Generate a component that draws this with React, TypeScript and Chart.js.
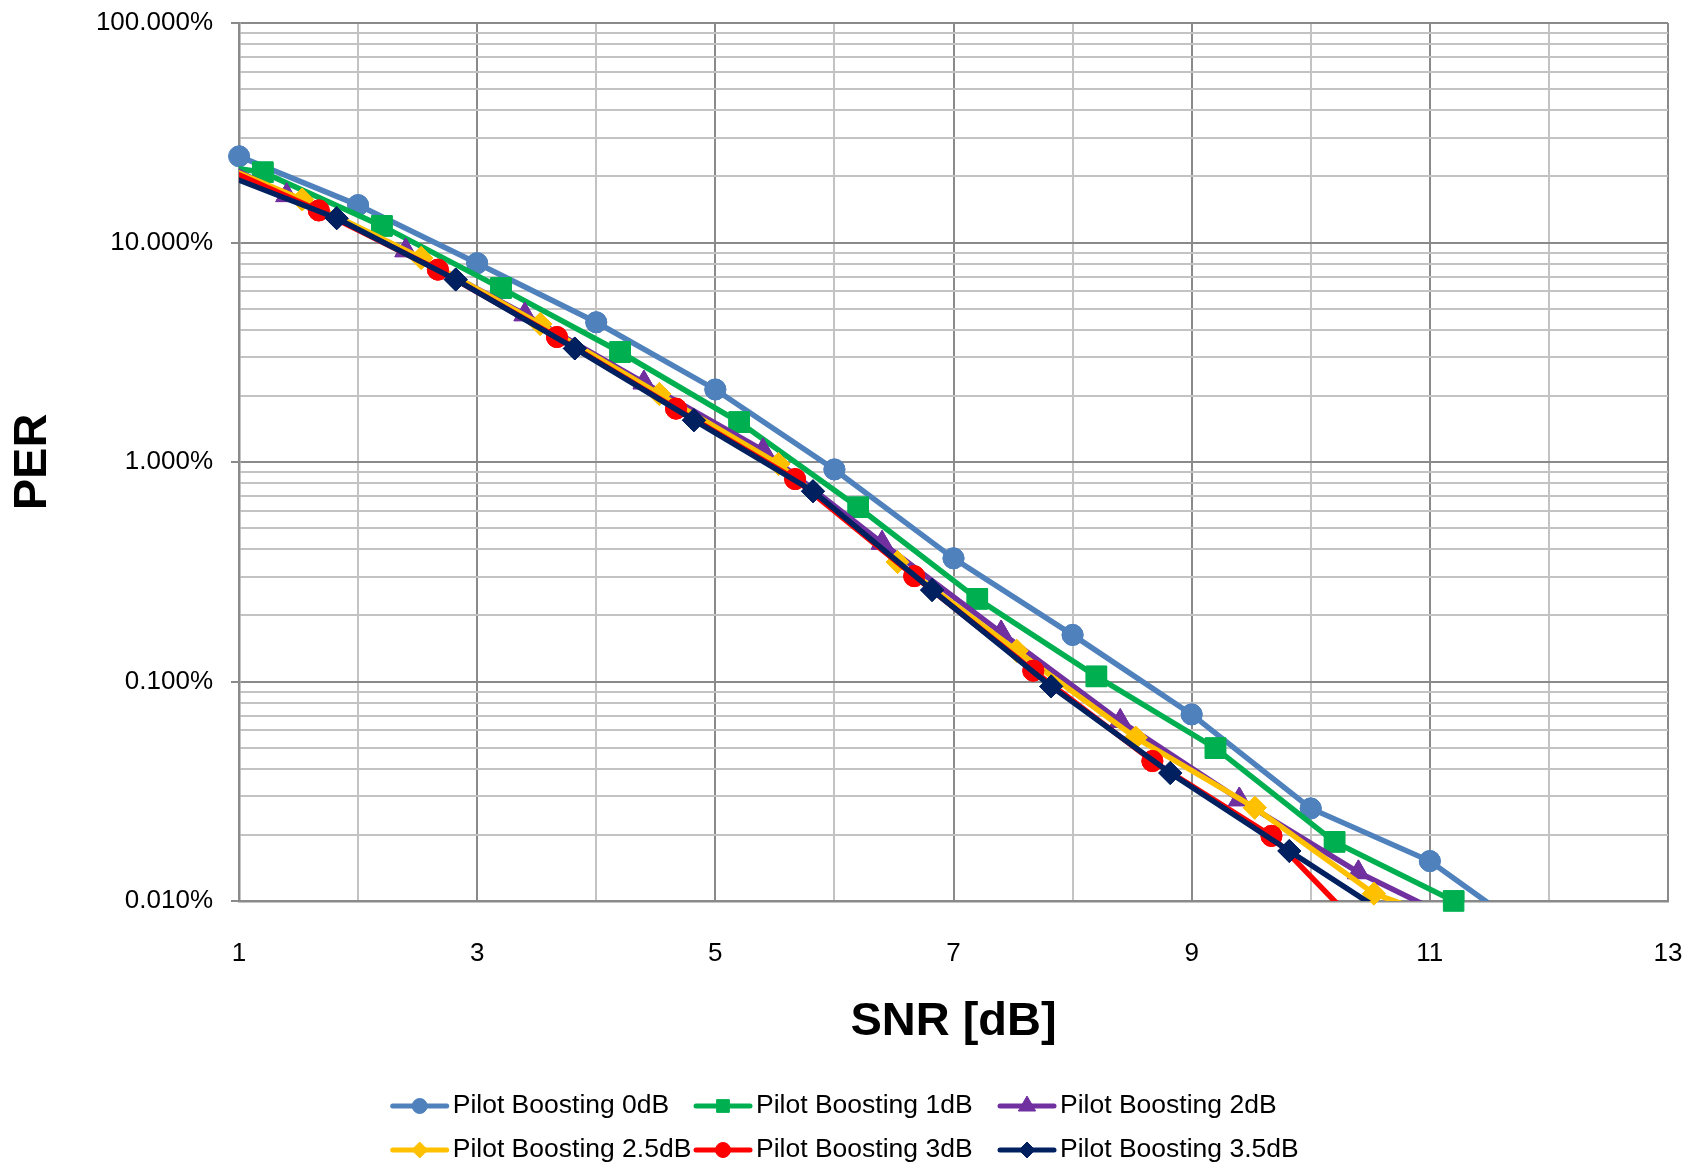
import React, { useEffect, useRef } from 'react';
import { Chart, registerables } from 'chart.js';
import { drawPoint } from 'chart.js/helpers';

Chart.register(...registerables);

// ---------- data ----------
const seriesNames = [
  'Pilot Boosting 0dB',
  'Pilot Boosting 1dB',
  'Pilot Boosting 2dB',
  'Pilot Boosting 2.5dB',
  'Pilot Boosting 3dB',
  'Pilot Boosting 3.5dB',
];

// SNR [dB] (x) and PER [%] (y) per series
const snr0 = [1, 2, 3, 4, 5, 6, 7, 8, 9, 10, 11, 12];
const per0 = [24.7, 14.8, 8.05, 4.33, 2.14, 0.925, 0.364, 0.163, 0.0708, 0.0264, 0.0152, 0.0062];

const snr1 = [0.2, 1.2, 2.2, 3.2, 4.2, 5.2, 6.2, 7.2, 8.2, 9.2, 10.2, 11.2];
const per1 = [25.2, 20.9, 11.9, 6.2, 3.17, 1.52, 0.622, 0.238, 0.1055, 0.0497, 0.0186, 0.01];

const snr2 = [0.4, 1.4, 2.4, 3.4, 4.4, 5.4, 6.4, 7.4, 8.4, 9.4, 10.4, 11.4];
const per2 = [30.5, 16.4, 9.2, 4.7, 2.3, 1.13, 0.428, 0.167, 0.066, 0.029, 0.0135, 0.0073];

const snr25 = [0.53, 1.53, 2.53, 3.53, 4.53, 5.53, 6.53, 7.53, 8.53, 9.53, 10.53, 11.53];
const per25 = [26.5, 15.7, 8.5, 4.25, 2.04, 0.98, 0.35, 0.138, 0.0555, 0.0266, 0.0108, 0.0069];

const snr3 = [0.67, 1.67, 2.67, 3.67, 4.67, 5.67, 6.67, 7.67, 8.67, 9.67, 10.67];
const per3 = [24.5, 14.0, 7.52, 3.71, 1.75, 0.836, 0.302, 0.112, 0.0434, 0.0198, 0.00545];

const snr35 = [0.82, 1.82, 2.82, 3.82, 4.82, 5.82, 6.82, 7.82, 8.82, 9.82, 10.82];
const per35 = [21.0, 12.9, 6.78, 3.29, 1.55, 0.736, 0.261, 0.095, 0.0383, 0.0169, 0.0075];

const seriesX = [snr0, snr1, snr2, snr25, snr3, snr35];
const seriesY = [per0, per1, per2, per25, per3, per35];

// axis ticks
const xTickLabels = [1, 3, 5, 7, 9, 11, 13];
const yDecades = [0.01, 0.1, 1, 10, 100];
const yMinorSteps = [2, 3, 4, 5, 6, 7, 8, 9];

// ---------- styles ----------
const seriesColors = ['#4F81BD', '#00B050', '#7030A0', '#FFC000', '#FF0000', '#002060'];
const seriesMarkers = ['circle', 'rect', 'triangle', 'rectRot', 'circle', 'rectRot'];
const markerRadii = [10.5, 14.5, 12.5, 11.5, 10.5, 11.5];
const legendMarkerRadii = [7.5, 9, 10, 8, 7.5, 8];

const FONT = '"Liberation Sans", Arial, sans-serif';
const GRID_MAJOR = '#8a8a8a';
const GRID_MINOR = '#c3c3c3';

const legendColX = [392.7, 696, 1000];
const legendRowY = [1106, 1150];

const yTickObjs: { value: number; major: boolean }[] = [];
yDecades.forEach((d, i) => {
  yTickObjs.push({ value: d, major: true });
  if (i < yDecades.length - 1) {
    yMinorSteps.forEach((m) => yTickObjs.push({ value: +(d * m).toPrecision(6), major: false }));
  }
});

const pointsOverEdge = {
  id: 'pointsOverEdge',
  afterDatasetDraw(chart: any, args: any) {
    const { left, right, top, bottom } = chart.chartArea;
    const ctx = chart.ctx;
    args.meta.data.forEach((pt: any) => {
      if (pt.x >= left - 0.5 && pt.x <= right + 0.5 && pt.y >= top - 0.5 && pt.y <= bottom + 0.5) {
        pt.draw(ctx);
      }
    });
  },
};

const customLegend = {
  id: 'customLegend',
  afterDraw(chart: any) {
    const ctx = chart.ctx;
    ctx.save();
    chart.data.datasets.forEach((ds: any, i: number) => {
      const x0 = legendColX[i % 3];
      const y0 = legendRowY[Math.floor(i / 3)];
      ctx.strokeStyle = ds.borderColor;
      ctx.lineWidth = 5;
      ctx.lineCap = 'round';
      ctx.beginPath();
      ctx.moveTo(x0, y0);
      ctx.lineTo(x0 + 54, y0);
      ctx.stroke();
      ctx.lineCap = 'butt';
      ctx.fillStyle = ds.pointBackgroundColor;
      ctx.strokeStyle = ds.pointBorderColor;
      ctx.lineWidth = 1;
      drawPoint(ctx, { pointStyle: ds.pointStyle, radius: legendMarkerRadii[i], borderWidth: 1, rotation: 0 } as any, x0 + 27, y0);
      ctx.fillStyle = '#000';
      ctx.font = `26.5px ${FONT}`;
      ctx.textBaseline = 'middle';
      ctx.textAlign = 'left';
      ctx.fillText(ds.label, x0 + 60, y0);
    });
    ctx.restore();
  },
};

export default function App() {
  const canvasRef = useRef<HTMLCanvasElement | null>(null);

  useEffect(() => {
    if (!canvasRef.current) return;
    const datasets = seriesNames.map((name, i) => ({
      label: name,
      data: seriesX[i].map((x, j) => ({ x, y: seriesY[i][j] })),
      borderColor: seriesColors[i],
      backgroundColor: seriesColors[i],
      pointBackgroundColor: seriesColors[i],
      pointBorderColor: seriesColors[i],
      pointBorderWidth: 1,
      pointStyle: seriesMarkers[i],
      pointRadius: markerRadii[i],
      borderWidth: 5.5,
      tension: 0,
      order: seriesNames.length - 1 - i,
    }));

    const chart = new Chart(canvasRef.current, {
      type: 'line',
      data: { datasets },
      plugins: [pointsOverEdge, customLegend],
      options: {
        animation: false,
        responsive: false,
        events: [],
        layout: { padding: { top: 23, right: 17, bottom: 115, left: 0 } },
        plugins: {
          legend: { display: false },
          tooltip: { enabled: false },
        },
        scales: {
          x: {
            type: 'linear',
            min: 1,
            max: 13,
            ticks: {
              stepSize: 1,
              autoSkip: false,
              maxRotation: 0,
              padding: 0,
              color: '#000',
              font: { family: FONT, size: 26 },
              callback: (v: any) => (xTickLabels.includes(Number(v)) ? String(v) : ''),
            },
            grid: {
              color: (c: any) => (c.tick && xTickLabels.includes(c.tick.value) ? GRID_MAJOR : GRID_MINOR),
              lineWidth: 2,
              drawTicks: true,
              tickLength: 37,
              tickColor: 'rgba(0,0,0,0)',
            },
            border: { color: GRID_MAJOR, width: 2.5 },
            title: {
              display: true,
              text: 'SNR [dB]',
              color: '#000',
              font: { family: FONT, size: 47, weight: 'bold' },
              padding: { top: 0, bottom: 1 },
            },
            afterFit: (s: any) => {
              s.height = 150;
            },
          },
          y: {
            type: 'logarithmic',
            min: 0.01,
            max: 100,
            afterBuildTicks: (s: any) => {
              s.ticks = yTickObjs.map((t) => ({ value: t.value, major: t.major }));
            },
            ticks: {
              autoSkip: false,
              padding: 18,
              color: '#000',
              font: { family: FONT, size: 26, lineHeight: 0.3 },
              callback: (v: any, idx: number, ticks: any[]) =>
                ticks[idx] && ticks[idx].major ? Number(v).toFixed(3) + '%' : '',
            },
            grid: {
              color: (c: any) => (c.tick && c.tick.major ? GRID_MAJOR : GRID_MINOR),
              tickColor: (c: any) => (c.tick && c.tick.major ? GRID_MAJOR : 'rgba(0,0,0,0)'),
              lineWidth: 2,
              tickLength: 8,
              drawTicks: true,
            },
            border: { color: GRID_MAJOR, width: 2.5 },
            title: {
              display: true,
              text: 'PER',
              color: '#000',
              font: { family: FONT, size: 47, weight: 'bold' },
              padding: { top: 5, bottom: 0 },
            },
            afterFit: (s: any) => {
              s.width = 239;
            },
          },
        },
      } as any,
    });
    return () => chart.destroy();
  }, []);

  return (
    <div style={{ position: 'absolute', left: 0, top: 0, width: 1685, height: 1166, background: '#fff' }}>
      <canvas ref={canvasRef} width={1685} height={1166} style={{ display: 'block' }} />
    </div>
  );
}
